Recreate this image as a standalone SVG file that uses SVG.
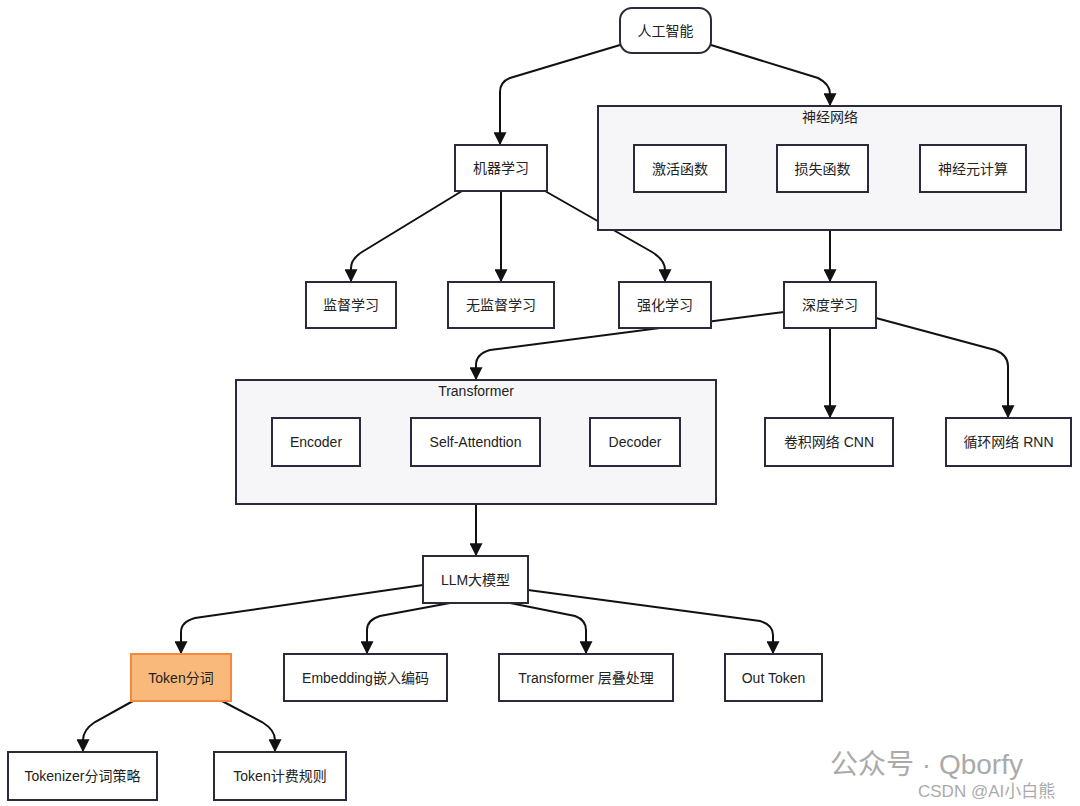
<svg xmlns="http://www.w3.org/2000/svg" width="1080" height="806" viewBox="0 0 1080 806">
<style>
.n{fill:#fff;stroke:#2a2a3a;stroke-width:2}
.c{fill:#f6f6f9;stroke:#2a2a3a;stroke-width:2}
.t{font-family:"Liberation Sans","Noto Sans CJK SC",sans-serif;font-size:14px;fill:#222;text-anchor:middle;dominant-baseline:central}
.e{fill:none;stroke:#111;stroke-width:2;marker-end:url(#a)}
.w{font-family:"Liberation Sans","Noto Sans CJK SC",sans-serif;fill:#aaa}
</style>
<defs><marker id="a" viewBox="0 0 10 10" refX="9" refY="5" markerWidth="6.5" markerHeight="6.5" orient="auto"><path d="M0,0L10,5L0,10z" fill="#111"/></marker></defs>
<rect width="1080" height="806" fill="#fff"/>
<g id="connectors">
<path class="e" d="M545,191L652,252Q665,260 665,270L665,281"/>
<path class="e" d="M620,45L510,78Q500,82 500,92L500,144"/>
<path class="e" d="M711,45L818,78Q830,84 830,94L830,105"/>
<path class="e" d="M462,191L362,252Q351,259 351,268L351,281"/>
<path class="e" d="M501,191L501,281"/>
<path class="e" d="M830,230L830,281"/>
<path class="e" d="M784,312L490,350Q476,354 476,365L476,379"/>
<path class="e" d="M830,328L830,417"/>
<path class="e" d="M876,318L995,350Q1008,355 1008,366L1008,417"/>
<path class="e" d="M476,504L476,555"/>
<path class="e" d="M423,585L195,618Q181,622 181,632L181,653"/>
<path class="e" d="M450,603L380,616Q367,620 367,630L367,653"/>
<path class="e" d="M510,603L575,616Q586,620 586,630L586,653"/>
<path class="e" d="M528,590L760,621Q773,625 773,635L773,653"/>
<path class="e" d="M133,701L95,722Q83,730 83,740L83,751"/>
<path class="e" d="M222,701L262,722Q275,730 275,740L275,751"/>
</g>
<g id="nn"><rect class="c" x="598" y="106" width="463" height="124"/><text class="t" x="830" y="117">神经网络</text></g>
<g id="tf"><rect class="c" x="236" y="380" width="480" height="124"/><text class="t" x="476" y="391">Transformer</text></g>
<g id="ai"><rect class="n" x="620" y="8" width="91" height="45" rx="12"/><text class="t" x="665.5" y="30.5">人工智能</text></g>
<g id="act"><rect class="n" x="634" y="145" width="92" height="47"/><text class="t" x="680" y="168.5">激活函数</text></g>
<g id="loss"><rect class="n" x="777" y="145" width="91" height="47"/><text class="t" x="822.5" y="168.5">损失函数</text></g>
<g id="neu"><rect class="n" x="920" y="145" width="106" height="47"/><text class="t" x="973" y="168.5">神经元计算</text></g>
<g id="ml"><rect class="n" x="455" y="145" width="92" height="46"/><text class="t" x="501" y="168">机器学习</text></g>
<g id="sup"><rect class="n" x="306" y="282" width="90" height="46"/><text class="t" x="351" y="305">监督学习</text></g>
<g id="unsup"><rect class="n" x="448" y="282" width="106" height="46"/><text class="t" x="501" y="305">无监督学习</text></g>
<g id="rl"><rect class="n" x="619" y="282" width="92" height="46"/><text class="t" x="665" y="305">强化学习</text></g>
<g id="dl"><rect class="n" x="784" y="282" width="92" height="46"/><text class="t" x="830" y="305">深度学习</text></g>
<g id="enc"><rect class="n" x="272" y="418" width="88" height="48"/><text class="t" x="316" y="442">Encoder</text></g>
<g id="sa"><rect class="n" x="411" y="418" width="129" height="48"/><text class="t" x="475.5" y="442">Self-Attendtion</text></g>
<g id="dec"><rect class="n" x="590" y="418" width="90" height="48"/><text class="t" x="635" y="442">Decoder</text></g>
<g id="cnn"><rect class="n" x="765" y="418" width="128" height="48"/><text class="t" x="829" y="442">卷积网络 CNN</text></g>
<g id="rnn"><rect class="n" x="946" y="418" width="125" height="48"/><text class="t" x="1008.5" y="442">循环网络 RNN</text></g>
<g id="llm"><rect class="n" x="423" y="556" width="105" height="47"/><text class="t" x="475.5" y="579.5">LLM大模型</text></g>
<g id="tok"><rect x="131" y="654" width="100" height="47" fill="#f8b97a" stroke="#f5883a" stroke-width="2"/><text class="t" x="181" y="677.5">Token分词</text></g>
<g id="emb"><rect class="n" x="284" y="654" width="163" height="47"/><text class="t" x="365.5" y="677.5">Embedding嵌入编码</text></g>
<g id="tfl"><rect class="n" x="499" y="654" width="174" height="47"/><text class="t" x="586" y="677.5">Transformer 层叠处理</text></g>
<g id="out"><rect class="n" x="725" y="654" width="97" height="47"/><text class="t" x="773.5" y="677.5">Out Token</text></g>
<g id="tkz"><rect class="n" x="8" y="752" width="149" height="48"/><text class="t" x="82.5" y="776">Tokenizer分词策略</text></g>
<g id="fee"><rect class="n" x="214" y="752" width="132" height="48"/><text class="t" x="280" y="776">Token计费规则</text></g>
<text class="w" x="830" y="774" font-size="28">公众号 · Qborfy</text>
<text class="w" x="918" y="797" font-size="17">CSDN @AI小白熊</text>
</svg>
